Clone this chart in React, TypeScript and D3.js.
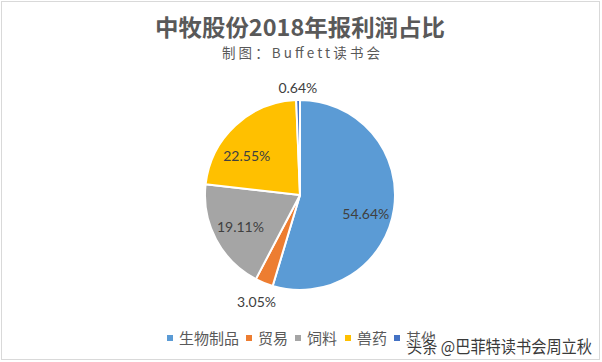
import React from "react";
import * as d3 from "d3";

const categories = ["生物制品", "贸易", "饲料", "兽药", "其他"];
const values = [54.64, 3.05, 19.11, 22.55, 0.64];
const colors = ["#5B9BD5", "#ED7D31", "#A5A5A5", "#FFC000", "#4472C4"];
const titleText = "中牧股份2018年报利润占比";
const subtitleText = "制图：Buffett读书会";
const watermarkText = "头条 @巴菲特读书会周立秋";

// label layout: radius factor and small nudges (Excel best-fit placement)
const labelRadius = [0.7, 1.21, 0.71, 0.7, 1.13];
const labelNudge: [number, number][] = [
  [0, 9],
  [0, 0],
  [0, 0],
  [-8, 9],
  [0, 0],
];

const W = 602;
const H = 362;
const cx = 300;
const cy = 195;
const R = 95;

export default function App() {
  const pie = d3
    .pie<number>()
    .sort(null)
    .value((d) => d);
  const arcs = pie(values);
  const arc = d3.arc<d3.PieArcDatum<number>>().innerRadius(0).outerRadius(R);

  const legendX = [167, 246, 295, 345, 394];
  const font = "'Noto Sans CJK SC', 'Noto Sans', sans-serif";

  return (
    <svg
      width={W}
      height={H}
      style={{ position: "fixed", left: 0, top: 0, background: "#fff" }}
    >
      <rect x={0} y={0} width={W} height={H} fill="#fff" />
      <rect
        x={1.5}
        y={1.5}
        width={598}
        height={358}
        fill="none"
        stroke="#D9D9D9"
        strokeWidth={1}
      />
      <text
        x={300}
        y={36}
        textAnchor="middle"
        fontFamily={font}
        fontWeight={700}
        fontSize={23}
        fill="#595959"
        textLength={290}
        lengthAdjust="spacingAndGlyphs"
      >
        {titleText}
      </text>
      <text
        x={301}
        y={58}
        textAnchor="middle"
        fontFamily={font}
        fontSize={13.5}
        fill="#595959"
        textLength={158}
        lengthAdjust="spacing"
      >
        {subtitleText}
      </text>
      <g transform={`translate(${cx},${cy})`}>
        {arcs.map((a, i) => (
          <path
            key={i}
            d={arc(a) || ""}
            fill={colors[i]}
            stroke="#fff"
            strokeWidth={2}
            strokeLinejoin="round"
          />
        ))}
        {arcs.map((a, i) => {
          const r = R * labelRadius[i];
          const la = d3
            .arc<d3.PieArcDatum<number>>()
            .innerRadius(r)
            .outerRadius(r);
          const [x, y] = la.centroid(a);
          return (
            <text
              key={"l" + i}
              x={x + labelNudge[i][0]}
              y={y + labelNudge[i][1]}
              textAnchor="middle"
              dominantBaseline="central"
              fontFamily="Lato, 'Open Sans', sans-serif"
              fontSize={14}
              fill="#404040"
            >
              {values[i].toFixed(2) + "%"}
            </text>
          );
        })}
      </g>
      <g>
        {categories.map((c, i) => (
          <g key={c}>
            <rect
              x={legendX[i]}
              y={335}
              width={6}
              height={6}
              fill={colors[i]}
            />
            <text
              x={legendX[i] + 12}
              y={337}
              dominantBaseline="central"
              fontFamily={font}
              fontSize={15}
              fill="#595959"
            >
              {c}
            </text>
          </g>
        ))}
      </g>
      <text
        x={407}
        y={353}
        fontFamily={font}
        fontSize={17}
        fill="#3a3a3a"
        stroke="#fff"
        strokeWidth={2}
        paintOrder="stroke"
        textLength={185}
        lengthAdjust="spacingAndGlyphs"
      >
        {watermarkText}
      </text>
    </svg>
  );
}
